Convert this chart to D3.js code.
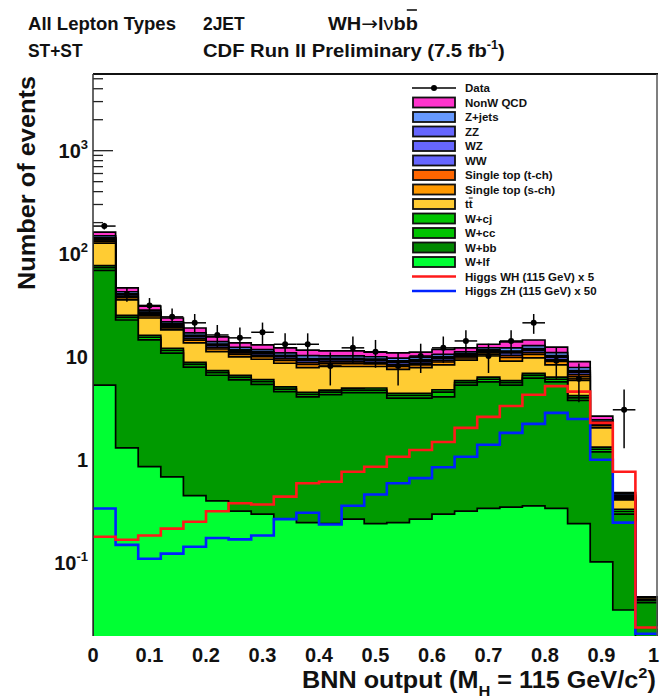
<!DOCTYPE html>
<html>
<head>
<meta charset="utf-8">
<script src="https://cdn.jsdelivr.net/npm/d3@7"></script>
<style>
  html, body { margin: 0; padding: 0; background: #fff; }
  svg { display: block; }
  text { font-family: "Liberation Sans", Arial, Helvetica, sans-serif; font-weight: bold; fill: #111; }
</style>
</head>
<body>
<svg id="chart" width="660" height="699"></svg>
<script>
// ---- binning of the BNN output (25 bins of width 0.04) ----
const binEdges = [0, 0.04, 0.08, 0.12, 0.16, 0.2, 0.24, 0.28, 0.32, 0.36, 0.4, 0.44, 0.48,
                  0.52, 0.56, 0.6, 0.64, 0.68, 0.72, 0.76, 0.8, 0.84, 0.88, 0.92, 0.96, 1.0];

// ---- background expectations per bin (stacked, bottom to top) ----
const wlf   = [5.2, 1.28, 0.84, 0.67, 0.44, 0.39, 0.31, 0.29, 0.26, 0.24, 0.235, 0.26, 0.235, 0.24, 0.26, 0.29, 0.31, 0.33, 0.34, 0.35, 0.33, 0.235, 0.1, 0.034, 0.01];
const wbb   = [62.8, 21.1, 13.5, 10.0, 7.36, 6.11, 5.54, 5.01, 4.24, 3.76, 3.97, 4.14, 4.17, 3.66, 3.64, 3.71, 4.89, 5.27, 4.86, 5.75, 5.27, 3.47, 1.07, 0.256, 0.03];
const wcc   = [4.1, 1.35, 0.86, 0.64, 0.47, 0.39, 0.35, 0.32, 0.27, 0.24, 0.25, 0.26, 0.26, 0.23, 0.23, 0.45, 0.31, 0.34, 0.31, 0.37, 0.34, 0.22, 0.07, 0.018, 0.002];
const wcj   = [3.4, 1.1, 0.7, 0.54, 0.39, 0.33, 0.29, 0.27, 0.23, 0.2, 0.21, 0.22, 0.22, 0.2, 0.2, 0.25, 0.26, 0.28, 0.26, 0.3, 0.28, 0.19, 0.06, 0.016, 0.001];
const ttbar = [49.5, 10.2, 7.5, 6.05, 4.74, 3.78, 3.31, 3.41, 3.5, 3.26, 3.24, 3.02, 3.02, 3.07, 3.37, 3.5, 3.33, 4.08, 3.13, 2.83, 1.98, 1.69, 0.7, 0.076, 0.0015];
const stopS = [5.6, 1.8, 1.15, 0.88, 0.85, 0.69, 0.58, 0.56, 0.56, 0.59, 0.53, 0.53, 0.48, 0.53, 0.51, 0.54, 0.46, 0.43, 0.77, 0.75, 0.64, 0.48, 0.1, 0.015, 0.0003];
const stopT = [3.5, 1.1, 0.7, 0.55, 0.53, 0.43, 0.36, 0.35, 0.35, 0.37, 0.33, 0.33, 0.3, 0.33, 0.32, 0.34, 0.29, 0.27, 0.48, 0.47, 0.4, 0.3, 0.06, 0.008, 0.0002];
const ww    = [4.2, 1.3, 0.85, 0.66, 0.64, 0.52, 0.43, 0.42, 0.42, 0.44, 0.4, 0.4, 0.36, 0.4, 0.38, 0.41, 0.35, 0.32, 0.58, 0.56, 0.48, 0.36, 0.07, 0.012, 0.0002];
const wz    = [2.1, 0.65, 0.43, 0.33, 0.32, 0.26, 0.22, 0.21, 0.21, 0.22, 0.2, 0.2, 0.18, 0.2, 0.19, 0.2, 0.17, 0.16, 0.29, 0.28, 0.24, 0.18, 0.04, 0.006, 0.0001];
const zz    = [1.0, 0.33, 0.21, 0.17, 0.16, 0.13, 0.11, 0.1, 0.1, 0.11, 0.1, 0.1, 0.09, 0.1, 0.1, 0.1, 0.09, 0.08, 0.14, 0.14, 0.12, 0.09, 0.02, 0.003, 0.00005];
const zjets = [6.0, 1.9, 1.2, 0.93, 0.9, 0.73, 0.61, 0.6, 0.6, 0.63, 0.56, 0.56, 0.51, 0.56, 0.54, 0.58, 0.49, 0.46, 0.82, 0.8, 0.68, 0.51, 0.1, 0.02, 0.0002];
const qcd   = [12.6, 3.9, 2.55, 1.98, 1.9, 1.55, 1.3, 1.26, 1.26, 1.34, 1.18, 1.18, 1.08, 1.18, 1.16, 1.23, 1.05, 0.98, 1.72, 1.7, 1.44, 1.08, 0.21, 0.006, 0.0002];

// ---- Higgs signal templates (scaled) ----
const higgsWHx5  = [0.175, 0.164, 0.18, 0.21, 0.245, 0.31, 0.37, 0.36, 0.43, 0.58, 0.6, 0.75, 0.84, 1.05, 1.22, 1.46, 2.0, 2.56, 3.27, 4.2, 5.1, 4.5, 2.24, 0.75, 0.023];
const higgsZHx50 = [0.33, 0.146, 0.107, 0.12, 0.14, 0.17, 0.165, 0.18, 0.26, 0.3, 0.23, 0.35, 0.45, 0.58, 0.65, 0.83, 1.05, 1.37, 1.79, 2.19, 2.8, 2.44, 0.98, 0.24, 0.02];

// ---- observed events ----
const dataCounts = [183, 40, 31, 24, 21, 16, 15, 17, 13, 13, 8, 12, 11, 8, 10, 12, 14, 10, 14, 21, 9, 6, 0, 3, 0];

// ---- axis ticks ----
const xTickValues = [0, 0.1, 0.2, 0.3, 0.4, 0.5, 0.6, 0.7, 0.8, 0.9, 1];
const xTickLabels = ["0", "0.1", "0.2", "0.3", "0.4", "0.5", "0.6", "0.7", "0.8", "0.9", "1"];
const yTickValues = [0.1, 1, 10, 100, 1000];
const yTickBase   = ["10", "1", "10", "10", "10"];
const yTickExp    = ["-1", "", "", "2", "3"];

// ---- stack components, bottom to top, with fills ----
const stackKeys   = ["wlf", "wbb", "wcc", "wcj", "ttbar", "stopS", "stopT", "ww", "wz", "zz", "zjets", "qcd"];
const stackSeries = [wlf, wbb, wcc, wcj, ttbar, stopS, stopT, ww, wz, zz, zjets, qcd];
const stackColors = ["#00ff33", "#009a00", "#00c400", "#00c400", "#ffcc33", "#ff9900", "#ff6600", "#6666ff", "#6666ff", "#6666ff", "#6699ff", "#ff33cc"];

const svg = d3.select("#chart");
const plot = { left: 93, right: 658, top: 74, bottom: 636 };

const x = d3.scaleLinear().domain([0, 1]).range([plot.left, plot.right]);
const y = d3.scaleLog().domain([0.019, 5500]).range([plot.bottom, plot.top]);

const defs = svg.append("defs");
defs.append("clipPath").attr("id", "plotClip")
  .append("rect")
  .attr("x", plot.left).attr("y", plot.top)
  .attr("width", plot.right - plot.left).attr("height", plot.bottom - plot.top);

// ---- y axis ticks (drawn first, the histograms cover them) ----
const axisG = svg.append("g");
const yAxis = d3.axisRight(y)
  .tickValues(yTickValues)
  .tickSize(20)
  .tickFormat("");
axisG.append("g").attr("transform", `translate(${plot.left},0)`).call(yAxis)
  .call(g => g.select(".domain").remove())
  .call(g => g.selectAll("line").attr("stroke", "#222").attr("stroke-width", 1.3));

const minorTicks = [];
for (let e = -2; e <= 3; e++) {
  for (let m = 2; m <= 9; m++) {
    const v = m * Math.pow(10, e);
    if (v > y.domain()[0] && v < y.domain()[1]) minorTicks.push(v);
  }
}
const yMinor = d3.axisRight(y).tickValues(minorTicks).tickSize(10).tickFormat("");
axisG.append("g").attr("transform", `translate(${plot.left},0)`).call(yMinor)
  .call(g => g.select(".domain").remove())
  .call(g => g.selectAll("line").attr("stroke", "#222").attr("stroke-width", 1.3));

// ---- stacked backgrounds ----
const rows = d3.range(binEdges.length - 1).map(i => {
  const r = { i };
  stackKeys.forEach((k, j) => { r[k] = stackSeries[j][i]; });
  return r;
});
const stacked = d3.stack().keys(stackKeys)(rows);

// step points: one per bin edge, last bin repeated at the closing edge
function stepPoints(values) {
  const pts = values.map((v, i) => [binEdges[i], v]);
  pts.push([binEdges[binEdges.length - 1], values[values.length - 1]]);
  return pts;
}

const yv = v => (v > 0 ? y(v) : plot.bottom + 50);

const area = d3.area()
  .curve(d3.curveStepAfter)
  .x(d => x(d[0]))
  .y0(plot.bottom + 20)
  .y1(d => yv(d[1]));

const histG = svg.append("g").attr("clip-path", "url(#plotClip)");
for (let k = stacked.length - 1; k >= 0; k--) {
  const tops = stacked[k].map(d => d[1]);
  histG.append("path")
    .datum(stepPoints(tops))
    .attr("d", area)
    .attr("fill", stackColors[k])
    .attr("stroke", "#000")
    .attr("stroke-width", 1.7)
    .attr("stroke-linejoin", "miter");
}

// ---- signal overlays ----
const stepLine = d3.line()
  .curve(d3.curveStepAfter)
  .x(d => x(d[0]))
  .y(d => yv(d[1]));

histG.append("path")
  .datum(stepPoints(higgsZHx50))
  .attr("d", stepLine)
  .attr("fill", "none")
  .attr("stroke", "#0022ff")
  .attr("stroke-width", 2.6);

histG.append("path")
  .datum(stepPoints(higgsWHx5))
  .attr("d", stepLine)
  .attr("fill", "none")
  .attr("stroke", "#ff1a1a")
  .attr("stroke-width", 2.6);

// ---- data points with Poisson errors ----
const dataG = svg.append("g").attr("clip-path", "url(#plotClip)");
dataCounts.forEach((n, i) => {
  if (n <= 0) return;
  const xc = x((binEdges[i] + binEdges[i + 1]) / 2);
  const err = Math.sqrt(n);
  const lo = n - err > 0 ? y(n - err) : plot.bottom;
  dataG.append("line")
    .attr("x1", xc).attr("x2", xc)
    .attr("y1", y(n + err)).attr("y2", lo)
    .attr("stroke", "#000").attr("stroke-width", 1.5);
  dataG.append("line")
    .attr("x1", x(binEdges[i])).attr("x2", x(binEdges[i + 1]))
    .attr("y1", y(n)).attr("y2", y(n))
    .attr("stroke", "#000").attr("stroke-width", 1.5);
  dataG.append("circle")
    .attr("cx", xc).attr("cy", y(n)).attr("r", 3)
    .attr("fill", "#000");
});

// ---- frame ----
svg.append("line").attr("x1", plot.left).attr("x2", plot.right)
  .attr("y1", plot.top).attr("y2", plot.top)
  .attr("stroke", "#111").attr("stroke-width", 2);
svg.append("line").attr("x1", plot.left).attr("x2", plot.left)
  .attr("y1", plot.top).attr("y2", plot.bottom)
  .attr("stroke", "#333").attr("stroke-width", 1.5);
svg.append("line").attr("x1", plot.right - 1).attr("x2", plot.right - 1)
  .attr("y1", plot.top).attr("y2", plot.bottom)
  .attr("stroke", "#555").attr("stroke-width", 1.5);

// ---- tick labels ----
const xLab = svg.append("g");
xTickValues.forEach((v, i) => {
  const last = i === xTickValues.length - 1;
  xLab.append("text")
    .attr("x", last ? 659 : x(v)).attr("y", 662)
    .attr("text-anchor", last ? "end" : "middle")
    .attr("font-size", 20)
    .text(xTickLabels[i]);
});

const yLab = svg.append("g");
yTickValues.forEach((v, i) => {
  const t = yLab.append("text")
    .attr("x", 88).attr("y", y(v) + 8)
    .attr("text-anchor", "end")
    .attr("font-size", 20);
  t.append("tspan").text(yTickBase[i]);
  if (yTickExp[i]) {
    t.append("tspan").attr("dy", -9).attr("font-size", 13).text(yTickExp[i]);
  }
});

// scale a text group horizontally so that it spans a given width from x0
function fitWidth(g, x0, width) {
  const bb = g.node().getBBox();
  const s = width / bb.width;
  g.attr("transform", `translate(${x0},0) scale(${s},1) translate(${-bb.x},0)`);
}

// ---- axis titles ----
svg.append("text")
  .attr("transform", "translate(35,183) rotate(-90)")
  .attr("text-anchor", "middle")
  .attr("font-size", 24)
  .attr("textLength", 214)
  .attr("lengthAdjust", "spacingAndGlyphs")
  .text("Number of events");

const xTitleG = svg.append("g");
const xTitle = xTitleG.append("text").attr("x", 0).attr("y", 688).attr("font-size", 23);
xTitle.append("tspan").text("BNN output (M");
xTitle.append("tspan").attr("dy", 8).attr("font-size", 15).text("H");
xTitle.append("tspan").attr("dy", -8).text(" = 115 GeV/c");
xTitle.append("tspan").attr("dy", -10).attr("font-size", 15).text("2");
xTitle.append("tspan").attr("dy", 10).text(")");
fitWidth(xTitleG, 302, 354);

// ---- header ----
function headerText(str, x0, base, width) {
  const g = svg.append("g");
  const t = g.append("text").attr("x", 0).attr("y", base).attr("font-size", 19).text(str);
  fitWidth(g, x0, width);
  return { g, t };
}
headerText("All Lepton Types", 28, 30, 148);
headerText("2JET", 203, 30, 42);
{
  const g = svg.append("g");
  const t = g.append("text").attr("x", 0).attr("y", 30).attr("font-size", 19);
  t.append("tspan").text("WH");
  t.append("tspan").attr("font-family", "DejaVu Sans").attr("font-weight", "normal").text("\u2192");
  t.append("tspan").text("l");
  t.append("tspan").attr("font-weight", "normal").text("\u03bd");
  const lastB = t.append("tspan").text("bb");
  fitWidth(g, 328, 90);
  const n = t.text().length;
  const ext = t.node().getExtentOfChar(n - 1);
  g.append("line")
    .attr("x1", ext.x + 1).attr("x2", ext.x + ext.width - 1)
    .attr("y1", 10).attr("y2", 10)
    .attr("stroke", "#111").attr("stroke-width", 1.6);
}
headerText("ST+ST", 28, 57, 55);
{
  const g = svg.append("g");
  const t = g.append("text").attr("x", 0).attr("y", 57).attr("font-size", 19);
  t.append("tspan").text("CDF Run II Preliminary (7.5 fb");
  t.append("tspan").attr("dy", -8).attr("font-size", 12).text("-1");
  t.append("tspan").attr("dy", 8).text(")");
  fitWidth(g, 203, 302);
}

// ---- legend ----
const legendEntries = [
  { label: "Data", type: "data" },
  { label: "NonW QCD", type: "box", color: stackColors[11] },
  { label: "Z+jets", type: "box", color: stackColors[10] },
  { label: "ZZ", type: "box", color: stackColors[9] },
  { label: "WZ", type: "box", color: stackColors[8] },
  { label: "WW", type: "box", color: stackColors[7] },
  { label: "Single top (t-ch)", type: "box", color: stackColors[6] },
  { label: "Single top (s-ch)", type: "box", color: stackColors[5] },
  { label: "tt", type: "box", color: stackColors[4], bar: true },
  { label: "W+cj", type: "box", color: stackColors[3] },
  { label: "W+cc", type: "box", color: stackColors[2] },
  { label: "W+bb", type: "box", color: "#008800" },
  { label: "W+lf", type: "box", color: stackColors[0] },
  { label: "Higgs WH (115 GeV) x 5", type: "line", color: "#ff1a1a" },
  { label: "Higgs ZH (115 GeV) x 50", type: "line", color: "#0022ff" }
];
const leg = svg.append("g");
legendEntries.forEach((e, i) => {
  const cy = 88 + i * 14.5;
  if (e.type === "box") {
    leg.append("rect")
      .attr("x", 413).attr("y", cy - 5).attr("width", 42).attr("height", 10)
      .attr("fill", e.color).attr("stroke", "#111").attr("stroke-width", 1.8);
  } else if (e.type === "line") {
    leg.append("line").attr("x1", 412).attr("x2", 456).attr("y1", cy).attr("y2", cy)
      .attr("stroke", e.color).attr("stroke-width", 2.6);
  } else {
    leg.append("line").attr("x1", 412).attr("x2", 456).attr("y1", cy).attr("y2", cy)
      .attr("stroke", "#000").attr("stroke-width", 1.5);
    leg.append("circle").attr("cx", 434).attr("cy", cy).attr("r", 3).attr("fill", "#000");
  }
  const t = leg.append("text")
    .attr("x", 465).attr("y", cy + 4)
    .attr("font-size", 11.5)
    .text(e.label);
  if (e.bar) {
    const ext = t.node().getExtentOfChar(1);
    leg.append("line")
      .attr("x1", ext.x).attr("x2", ext.x + ext.width)
      .attr("y1", cy - 6).attr("y2", cy - 6)
      .attr("stroke", "#111").attr("stroke-width", 1);
  }
});
</script>
</body>
</html>
